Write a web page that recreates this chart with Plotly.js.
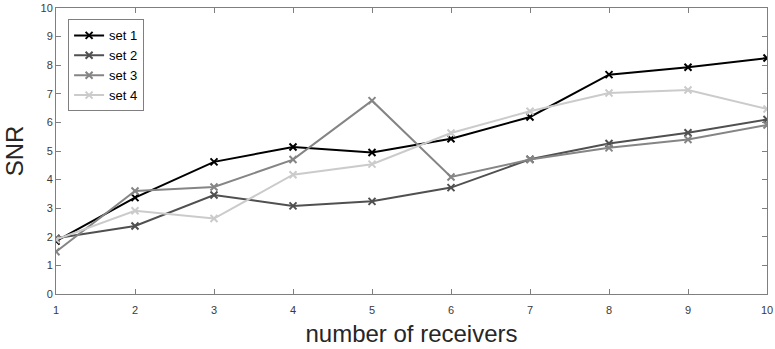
<!DOCTYPE html>
<html>
<head>
<meta charset="utf-8">
<script src="https://cdn.plot.ly/plotly-3.0.1.min.js"></script>
<style>html,body{margin:0;padding:0;background:#fff;}#chart{width:775px;height:349px;}</style>
</head>
<body>
<div id="chart"></div>
<script>
const receivers = [1, 2, 3, 4, 5, 6, 7, 8, 9, 10];
const set1 = [1.85, 3.37, 4.62, 5.14, 4.95, 5.43, 6.19, 7.67, 7.93, 8.25];
const set2 = [1.95, 2.38, 3.46, 3.08, 3.24, 3.72, 4.71, 5.26, 5.64, 6.10];
const set3 = [1.48, 3.60, 3.74, 4.70, 6.76, 4.09, 4.70, 5.11, 5.40, 5.91];
const set4 = [1.90, 2.91, 2.64, 4.17, 4.54, 5.63, 6.39, 7.03, 7.13, 6.47];
const names = ['set 1', 'set 2', 'set 3', 'set 4'];
const colors = ['#000000', '#505050', '#858585', '#cbcbcb'];
const series = [set1, set2, set3, set4];

const FONT = 'Liberation Sans, Arial, sans-serif';

const traces = series.map((s, i) => ({
  x: receivers, y: s, name: names[i], type: 'scatter', mode: 'lines+markers',
  line: {color: colors[i], width: 2},
  marker: {symbol: 'x-thin', size: 7, line: {color: colors[i], width: 2}, color: colors[i]}
}));

function axisCommon() {
  return {
    showline: true, linecolor: '#7f7f7f', linewidth: 1, mirror: 'ticks',
    ticks: 'inside', ticklen: 5, tickcolor: '#7f7f7f', tickwidth: 1,
    showgrid: false, zeroline: false,
    tickfont: {family: FONT, size: 11, color: '#3a3a3a'}
  };
}

const layout = {
  template: {},
  width: 775, height: 349,
  margin: {l: 56, r: 8, t: 8, b: 55},
  paper_bgcolor: '#ffffff', plot_bgcolor: '#ffffff',
  font: {family: FONT, color: '#3a3a3a'},
  showlegend: true,
  legend: {x: 0.017, y: 0.96, xanchor: 'left', yanchor: 'top',
    bgcolor: '#ffffff', bordercolor: '#7f7f7f', borderwidth: 1,
    font: {family: FONT, size: 13, color: '#000'},
    tracegroupgap: 0, itemwidth: 30},
  xaxis: Object.assign(axisCommon(), {
    range: [1, 10], tickvals: receivers, ticktext: receivers.map(String),
    ticklabelstandoff: 6,
    title: {text: 'number of receivers', font: {family: FONT, size: 24, color: '#262626'}, standoff: 9}
  }),
  yaxis: Object.assign(axisCommon(), {
    range: [0, 10], dtick: 1, tick0: 0,
    title: {text: 'SNR', font: {family: FONT, size: 24, color: '#262626'}, standoff: 10}
  })
};

Plotly.newPlot('chart', traces, layout, {displayModeBar: false, staticPlot: true});
</script>
</body>
</html>
